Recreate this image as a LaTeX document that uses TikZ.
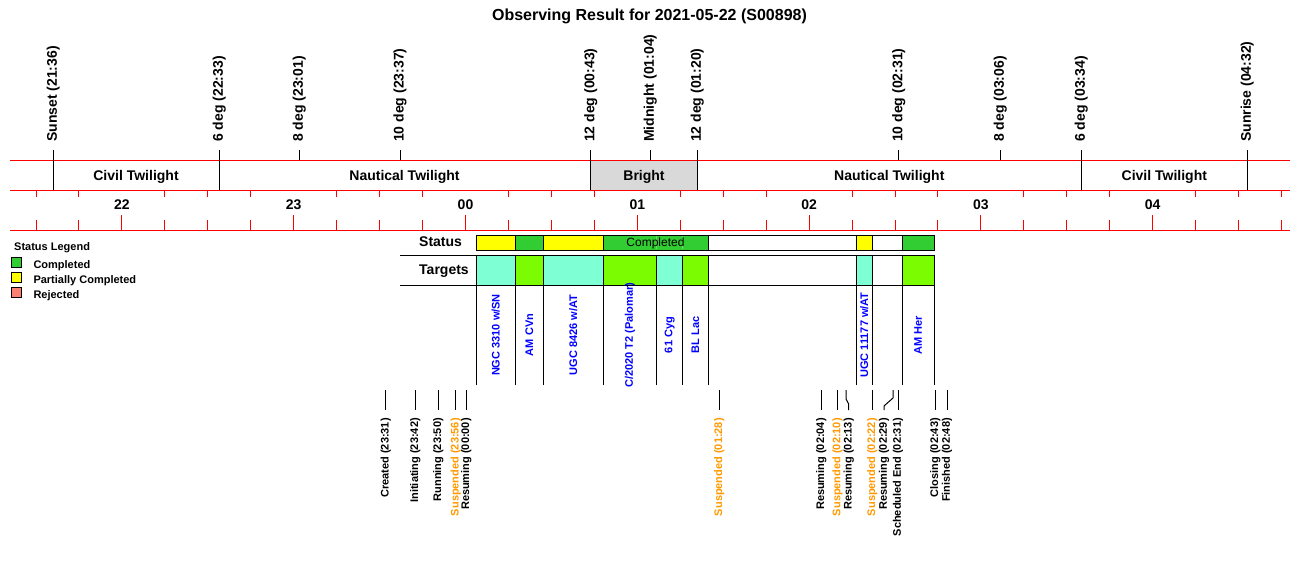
\documentclass[tikz,border=0pt]{standalone}
\usepackage{fontspec}
\setmainfont{Liberation Sans}
\definecolor{cgreen}{HTML}{32CD32}
\definecolor{cgreenlt}{HTML}{6EDB6E}
\definecolor{cyellow}{HTML}{FFFF00}
\definecolor{csalmon}{HTML}{FA8072}
\definecolor{caqua}{HTML}{7FFFD4}
\definecolor{clawn}{HTML}{7CFC00}
\definecolor{cgray}{HTML}{D9D9D9}
\definecolor{corange}{HTML}{FF9900}
\definecolor{cblue}{HTML}{0000FF}
\begin{document}
\begin{tikzpicture}[x=1pt,y=-1pt,
  redline/.style={draw=red, line width=1pt},
  blk/.style={draw=black, line width=1pt},
  titlelab/.style={font=\fontsize{16}{18}\selectfont\bfseries, anchor=base, inner sep=0pt},
  toplab/.style={font=\fontsize{14}{16}\selectfont\bfseries, rotate=90, anchor=west, inner sep=0pt},
  band/.style={font=\fontsize{14}{16}\selectfont\bfseries, anchor=base, inner sep=0pt},
  rowlab/.style={font=\fontsize{14}{16}\selectfont\bfseries, anchor=base west, inner sep=0pt},
  seglab/.style={font=\fontsize{12}{14}\selectfont, anchor=base, inner sep=0pt},
  tgtlab/.style={font=\fontsize{11}{13}\selectfont\bfseries, text=cblue, rotate=90, inner sep=0pt},
  evlab/.style={font=\fontsize{11}{13}\selectfont\bfseries, rotate=90, anchor=east, inner sep=0pt},
  seg/.style={draw=black, line width=1pt},
  legbox/.style={draw=black, line width=0.8pt},
  leglab/.style={font=\fontsize{11}{13}\selectfont\bfseries, anchor=base west, inner sep=0pt},
]
\useasboundingbox (0,0) rectangle (1300,560);

% title
\node[titlelab] (title) at (649.5,20) {Observing Result for 2021-05-22 (S00898)};

% bright band
\fill[cgray] (590.7,160) rectangle (697.3,190);

% red axis lines
\coordinate (ra1) at (10,160); \coordinate (rb1) at (1290,160);
\coordinate (ra2) at (10,190); \coordinate (rb2) at (1290,190);
\coordinate (ra3) at (10,230); \coordinate (rb3) at (1290,230);
\draw[redline] (ra1) -- (rb1);
\draw[redline] (ra2) -- (rb2);
\draw[redline] (ra3) -- (rb3);

% ticks every 15 minutes
\foreach \k in {-10,...,19} {
  \pgfmathsetmacro{\xx}{465.5+42.95*\k}
  \pgfmathtruncatemacro{\m}{mod(\k+40,4)}
  \ifnum\m=0
    \draw[redline] (\xx,215) -- (\xx,230);
  \else
    \draw[redline] (\xx,220) -- (\xx,230);
    \draw[redline] (\xx,190) -- (\xx,196.5);
  \fi
}
% hour labels
\foreach \k/\h in {-8/22,-4/23,0/00,4/01,8/02,12/03,16/04} {
  \node[band] (hr\h) at ({465.5+42.95*\k},209) {\h};
}

% sun events
\foreach \x/\t/\b [count=\i] in {
  53.3/Sunset (21:36)/190,
  219.3/6 deg (22:33)/190,
  299.3/8 deg (23:01)/160,
  400/10 deg (23:37)/160,
  590.7/12 deg (00:43)/190,
  650.3/Midnight (01:04)/160,
  697.3/12 deg (01:20)/190,
  898.7/10 deg (02:31)/160,
  1000.3/8 deg (03:06)/160,
  1081.3/6 deg (03:34)/190,
  1247.3/Sunrise (04:32)/190} {
  \coordinate (sunt\i) at (\x,150);
  \coordinate (sunb\i) at (\x,\b);
  \draw[blk] (sunt\i) -- (sunb\i);
  \node[toplab] (sunl\i) at (\x,142) {\t};
}

% band labels
\node[band] (civ1) at (136,180) {Civil Twilight};
\node[band] (nau1) at (404.5,180) {Nautical Twilight};
\node[band] (brt) at (644,180) {Bright};
\node[band] (nau2) at (889.3,180) {Nautical Twilight};
\node[band] (civ2) at (1164.3,180) {Civil Twilight};

% legend
\node[leglab] (legt) at (14,250.5) {Status Legend};
\draw[legbox, fill=cgreen] (11,257.3) rectangle (21.5,267.3);
\draw[legbox, fill=cyellow] (11,272.5) rectangle (21.5,282.5);
\draw[legbox, fill=csalmon] (11,287.7) rectangle (21.5,297.7);
\node[leglab] (leg1) at (33.3,268) {Completed};
\node[leglab] (leg2) at (33.3,283) {Partially Completed};
\node[leglab] (leg3) at (33.3,298) {Rejected};

% row labels and rules
\node[rowlab] (stlab) at (419,246) {Status};
\node[rowlab] (tglab) at (419,274) {Targets};
\coordinate (hl1a) at (400,255); \coordinate (hl1b) at (934,255);
\coordinate (hl2a) at (400,285); \coordinate (hl2b) at (934,285);
\draw[blk] (hl1a) -- (hl1b);
\draw[blk] (hl2a) -- (hl2b);

% status row
\draw[seg, fill=cyellow] (476.3,235) rectangle (515.3,250);
\draw[seg, fill=cgreen] (515.3,235) rectangle (543.3,250);
\draw[seg, fill=cyellow] (543.3,235) rectangle (603.3,250);
\draw[seg, fill=cgreen] (603.3,235) rectangle (708.3,250);
\draw[cgreenlt, line width=0.8pt] (656.7,235.6) -- (656.7,249.4);
\draw[cgreenlt, line width=0.8pt] (682.7,235.6) -- (682.7,249.4);
\draw[seg, fill=white] (708.3,235) rectangle (856,250);
\draw[seg, fill=cyellow] (856,235) rectangle (872.3,250);
\draw[seg, fill=white] (872.3,235) rectangle (902.3,250);
\draw[seg, fill=cgreen] (902.3,235) rectangle (934,250);
\node[seglab] (stc) at (655.5,246.2) {Completed};

% targets row
\draw[seg, fill=caqua] (476.3,255) rectangle (515.3,285);
\draw[seg, fill=clawn] (515.3,255) rectangle (543.3,285);
\draw[seg, fill=caqua] (543.3,255) rectangle (603.3,285);
\draw[seg, fill=clawn] (603.3,255) rectangle (656.7,285);
\draw[seg, fill=caqua] (656.7,255) rectangle (682.7,285);
\draw[seg, fill=clawn] (682.7,255) rectangle (708.3,285);
\draw[seg, fill=white] (708.3,255) rectangle (856,285);
\draw[seg, fill=caqua] (856,255) rectangle (872.3,285);
\draw[seg, fill=white] (872.3,255) rectangle (902.3,285);
\draw[seg, fill=clawn] (902.3,255) rectangle (934,285);

% target separators
\foreach \x [count=\i] in {476.3,515.3,543.3,603.3,656.7,682.7,708.3,856,872.3,902.3,934} {
  \coordinate (tst\i) at (\x,285);
  \coordinate (tsb\i) at (\x,385);
  \draw[blk] (tst\i) -- (tsb\i);
}

% target labels
\node[tgtlab] (tg1) at (495.8,335) {NGC 3310 w/SN};
\node[tgtlab] (tg2) at (529.3,335) {AM CVn};
\node[tgtlab] (tg3) at (573.3,335) {UGC 8426 w/AT};
\node[tgtlab] (tg4) at (630,335) {C/2020 T2 (Palomar)};
\node[tgtlab] (tg5) at (669.7,335) {61 Cyg};
\node[tgtlab] (tg6) at (695.5,335) {BL Lac};
\node[tgtlab] (tg7) at (864.2,335) {UGC 11177 w/AT};
\node[tgtlab] (tg8) at (918.2,335) {AM Her};

% event leaders (straight)
\foreach \x/\t/\c [count=\i] in {
  385.7/Created (23:31)/black,
  415.3/Initiating (23:42)/black,
  438.3/Running (23:50)/black,
  455.7/Suspended (23:56)/corange,
  466.3/Resuming (00:00)/black,
  719.3/Suspended (01:28)/corange,
  821.3/Resuming (02:04)/black,
  837.5/Suspended (02:10)/corange,
  872.3/Suspended (02:22)/corange,
  898/Scheduled End (02:31)/black,
  935.3/Closing (02:43)/black,
  947/Finished (02:48)/black} {
  \coordinate (evt\i) at (\x,390);
  \coordinate (evb\i) at (\x,410);
  \draw[blk] (evt\i) -- (evb\i);
  \node[evlab, text=\c] (evl\i) at (\x,418) {\t};
}
% event leaders (bent)
\coordinate (bat) at (846,390); \coordinate (bam) at (846,399);
\coordinate (ban) at (848.7,404); \coordinate (bab) at (848.7,410);
\draw[blk] (bat) -- (bam) -- (ban) -- (bab);
\node[evlab] (evla) at (848.7,418) {Resuming (02:13)};
\coordinate (bbt) at (893,390); \coordinate (bbm) at (893,398);
\coordinate (bbn) at (884,406); \coordinate (bbb) at (884,410);
\draw[blk] (bbt) -- (bbm) -- (bbn) -- (bbb);
\node[evlab] (evlb) at (884,418) {Resuming (02:29)};

\end{tikzpicture}
\end{document}
